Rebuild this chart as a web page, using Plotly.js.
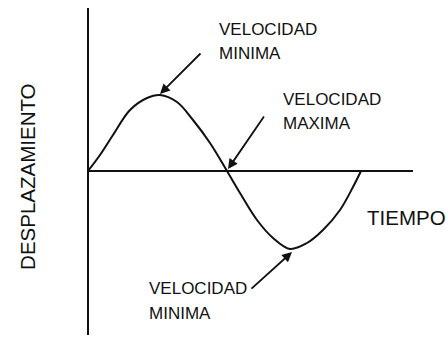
<!DOCTYPE html>
<html>
<head>
<meta charset="utf-8">
<script src="https://cdn.plot.ly/plotly-3.0.1.min.js"></script>
<style>html,body{margin:0;padding:0;background:#fff;}#chart{width:446px;height:337px;}</style>
</head>
<body>
<div id="chart"></div>
<script>
// Curve (time, displacement) in drawing units
const tiempo = [0, 12, 25, 42, 59, 72, 89, 105, 122, 139, 152, 169, 185, 202, 219, 235, 252, 265, 273];
const desplazamiento = [0, 16, 36, 61, 73, 76, 69, 51, 28, 0, -22, -49, -67, -78, -72, -59, -39, -16, 0];

// Labels
const labelLines = ["VELOCIDAD", "MINIMA", "VELOCIDAD", "MAXIMA", "VELOCIDAD", "MINIMA"];
const labelX = [129, 129, 193, 193, 59, 59];
const labelY = [142, 118, 72, 48, -117, -142];

// Arrows: head (on curve) and tail
const arrowHeadX = [72, 140, 204];
const arrowHeadY = [77, 2, -81];
const arrowTailX = [114, 177, 162];
const arrowTailY = [119, 56, -119];

const xTitle = "TIEMPO";
const yTitle = "DESPLAZAMIENTO";

const ink = "#111";
const labelFont = {family: "Liberation Sans, Arial, sans-serif", size: 17, color: ink};
const bigFont = {family: "Liberation Sans, Arial, sans-serif", size: 20.5, color: ink};

const annotations = [];
for (let i = 0; i < labelLines.length; i++) {
  annotations.push({x: labelX[i], y: labelY[i], xref: "x", yref: "y", text: labelLines[i],
    showarrow: false, xanchor: "left", yanchor: "middle", font: labelFont});
}
for (let i = 0; i < arrowHeadX.length; i++) {
  annotations.push({x: arrowHeadX[i], y: arrowHeadY[i], xref: "x", yref: "y",
    ax: arrowTailX[i], ay: arrowTailY[i], axref: "x", ayref: "y", text: "",
    showarrow: true, arrowhead: 2, arrowsize: 1.1, arrowwidth: 1.8, arrowcolor: ink, standoff: 0});
}
annotations.push({x: 277, y: -46, xref: "x", yref: "y", text: xTitle, showarrow: false,
  xanchor: "left", yanchor: "middle", font: bigFont});
annotations.push({x: -0.188, y: -6, xref: "paper", yref: "y", text: yTitle, showarrow: false,
  textangle: -90, xanchor: "center", yanchor: "middle", font: bigFont});

const trace = {x: tiempo, y: desplazamiento, type: "scatter", mode: "lines",
  line: {color: ink, width: 2, shape: "spline", smoothing: 1}, hoverinfo: "skip"};

const layout = {
  width: 446, height: 337,
  margin: {l: 88, r: 33, t: 8, b: 2},
  paper_bgcolor: "#fff", plot_bgcolor: "#fff",
  showlegend: false,
  xaxis: {range: [0, 325], showgrid: false, showticklabels: false, ticks: "",
    zeroline: true, zerolinecolor: ink, zerolinewidth: 2, showline: false, fixedrange: true},
  yaxis: {range: [-164, 163], showgrid: false, showticklabels: false, ticks: "",
    zeroline: true, zerolinecolor: ink, zerolinewidth: 2, showline: false, fixedrange: true},
  annotations: annotations
};

Plotly.newPlot("chart", [trace], layout, {displayModeBar: false, staticPlot: true});
</script>
</body>
</html>
